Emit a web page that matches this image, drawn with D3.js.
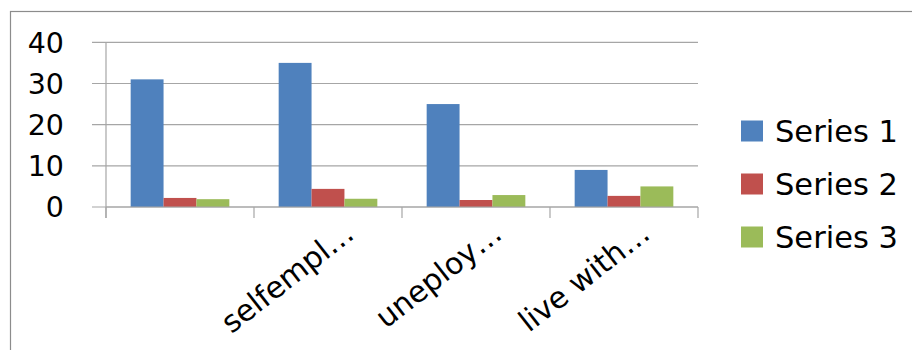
<!DOCTYPE html>
<html><head><meta charset="utf-8">
<script src="https://cdn.jsdelivr.net/npm/d3@7"></script>
<style>body{margin:0;background:#fff}svg{display:block}text{font-family:"DejaVu Sans",sans-serif;fill:#000}</style>
</head><body>
<svg id="c" width="912" height="350"></svg>
<script>
const categories = ["", "selfempl…", "uneploy…", "live with…"];
const seriesNames = ["Series 1", "Series 2", "Series 3"];
const series1 = [31, 35, 25, 9];
const series2 = [2.2, 4.4, 1.7, 2.7];
const series3 = [1.9, 2.0, 2.9, 5.0];
const yTicks = [0, 10, 20, 30, 40];
const colors = ["#4F81BD", "#C0504D", "#9BBB59"];

const seriesVals = [series1, series2, series3];
const svg = d3.select("#c");
const L = 106, R = 698, T = 42.3, B = 207;

// outer border
svg.append("rect").attr("x", 10.5).attr("y", 11.5).attr("width", 1000).attr("height", 400)
  .attr("fill", "none").attr("stroke", "#8c8c8c").attr("stroke-width", 1.2);

const x = d3.scaleBand().domain(d3.range(categories.length)).range([L, R]).paddingInner(0).paddingOuter(0);
const xs = d3.scaleBand().domain(d3.range(3)).range([0, x.bandwidth()]).paddingOuter(0.75).paddingInner(0);
const y = d3.scaleLinear().domain([0, 40]).range([B, T]);

// gridlines + y ticks
svg.append("g").selectAll("line").data(yTicks).join("line")
  .attr("x1", L - 14).attr("x2", R).attr("y1", d => y(d)).attr("y2", d => y(d))
  .attr("stroke", "#a6a6a6").attr("stroke-width", 1.2);
// y axis line
svg.append("line").attr("x1", L).attr("x2", L).attr("y1", T).attr("y2", B + 11)
  .attr("stroke", "#a6a6a6").attr("stroke-width", 1.2);
// y labels
svg.append("g").selectAll("text").data(yTicks).join("text")
  .attr("x", 64).attr("y", d => y(d)).attr("dy", "0.36em").attr("text-anchor", "end")
  .attr("font-size", 28.5).text(d => d);

// bars
const g = svg.append("g");
seriesVals.forEach((vals, si) => {
  g.append("g").selectAll("rect").data(vals).join("rect")
    .attr("x", (d, i) => x(i) + xs(si)).attr("width", xs.bandwidth())
    .attr("y", d => y(d)).attr("height", d => y(0) - y(d))
    .attr("fill", colors[si]);
});

// x axis ticks
const bounds = d3.range(categories.length + 1).map(i => i < categories.length ? x(i) : x(categories.length - 1) + x.bandwidth());
svg.append("g").selectAll("line").data(bounds).join("line")
  .attr("x1", d => d).attr("x2", d => d).attr("y1", B).attr("y2", B + 11)
  .attr("stroke", "#a6a6a6").attr("stroke-width", 1.2);
svg.append("line").attr("x1", L).attr("x2", R).attr("y1", B).attr("y2", B)
  .attr("stroke", "#a6a6a6").attr("stroke-width", 1.2);

// x labels
svg.append("g").selectAll("text").data(categories).join("text")
  .attr("transform", (d, i) => `translate(${x(i) + x.bandwidth() / 2 + 28},237) rotate(-38)`)
  .attr("text-anchor", "end").attr("font-size", 30).text(d => d);

// legend
const lg = svg.append("g");
seriesNames.forEach((n, i) => {
  const cy = 131 + i * 53;
  lg.append("rect").attr("x", 741).attr("y", cy - 10.5).attr("width", 22).attr("height", 21).attr("fill", colors[i]);
  lg.append("text").attr("x", 775).attr("y", cy).attr("dy", "0.36em").attr("font-size", 30.5).text(n);
});
</script>
</body></html>
